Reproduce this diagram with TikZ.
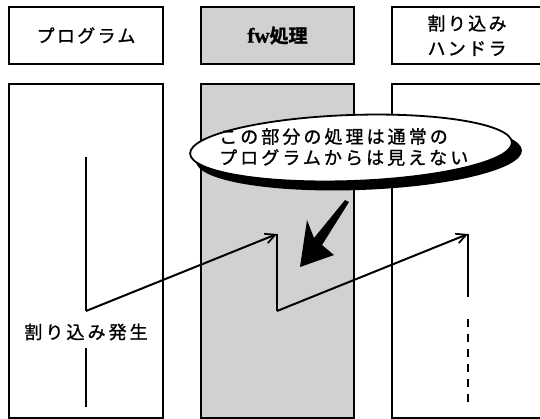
\documentclass[tikz,border=0pt]{standalone}
\usepackage{fontspec}
\usetikzlibrary{arrows.meta}
\newfontfamily\jp[LetterSpace=13,FakeBold=1.2]{Noto Sans CJK JP}
\newfontfamily\jpt[LetterSpace=17,FakeBold=1.2]{Noto Sans CJK JP}
\newfontfamily\jpb[FakeBold=1.5]{Noto Sans CJK JP Bold}
\newfontfamily\serifb[FakeBold=1]{Liberation Serif}
\begin{document}
\begin{tikzpicture}[x=1pt,y=1pt,
  bw/.style={line width=2pt},
  hdr/.style={draw, bw, anchor=north west, inner sep=0pt, minimum height=57, font=\jp\fontsize{18}{22}\selectfont, align=center},
  colbox/.style={draw, bw, anchor=north west, inner sep=0pt, minimum height=334},
  shade/.style={fill=black!18},
  flow/.style={line width=2pt},
  arr/.style={flow, -{Straight Barb[length=10pt,width=10pt,line width=1.7pt]}},
  lbl/.style={fill=white, inner sep=2pt, font=\jpt\fontsize{18}{20}\selectfont},
  bubtext/.style={anchor=west, align=left, inner sep=0pt, font=\jpt\fontsize{18}{21}\selectfont}]
\useasboundingbox (0,0) rectangle (540,-418);
\clip (0,0) rectangle (540,-418);
\fill[white] (0,0) rectangle (540,-418);
% header boxes
\node[hdr, minimum width=154] (hprog) at (8,-6) {プログラム};
\node[hdr, shade, minimum width=153] (hfw) at (200,-6) {{\serifb\bfseries\fontsize{21}{22}\selectfont fw}{\jpb\fontsize{19}{22}\selectfont 処理}};
\node[hdr, minimum width=150, text width=150] (hint) at (391,-6) {割り込み\\[3pt]ハンドラ};
% columns
\node[colbox, minimum width=154] (cprog) at (8,-83) {};
\node[colbox, shade, minimum width=153] (cfw) at (200,-83) {};
\node[colbox, minimum width=160] (cint) at (391,-83) {};
% flow
\coordinate (a1) at (86,-157);
\coordinate (a2) at (86,-311);
\coordinate (b1) at (277,-234);
\coordinate (b2) at (277,-311);
\coordinate (c1) at (468,-234);
\coordinate (c2) at (468,-297);
\coordinate (c3) at (468,-319);
\coordinate (c4) at (468,-407);
\coordinate (a3) at (86,-348);
\coordinate (a4) at (86,-407);
\draw[flow] (a1) -- (a2);
\draw[arr] (a2) -- (b1);
\draw[flow] (b1) -- (b2);
\draw[arr] (b2) -- (c1);
\draw[flow] (c1) -- (c2);
\draw[flow, dash pattern=on 8pt off 7pt] (c3) -- (c4);
\node[lbl] (intr) at (86,-332) {割り込み発生};
\draw[flow] (a3) -- (a4);
% speech bubble
\fill[black, rotate around={2:(359,-156)}] (359,-156) ellipse [x radius=163, y radius=34];
\draw[line width=1.8pt, fill=white, rotate around={2:(351,-148)}] (351,-148) ellipse [x radius=161, y radius=33];
\node[bubtext] (bub) at (219,-147) {この部分の処理は通常の\\プログラムからは見えない};
% big black arrow
\fill[black] (300,-267) -- (307,-220) -- (314,-238) -- (345,-200) -- (349,-202) -- (322,-245) -- (334,-255) -- cycle;
\end{tikzpicture}
\end{document}
